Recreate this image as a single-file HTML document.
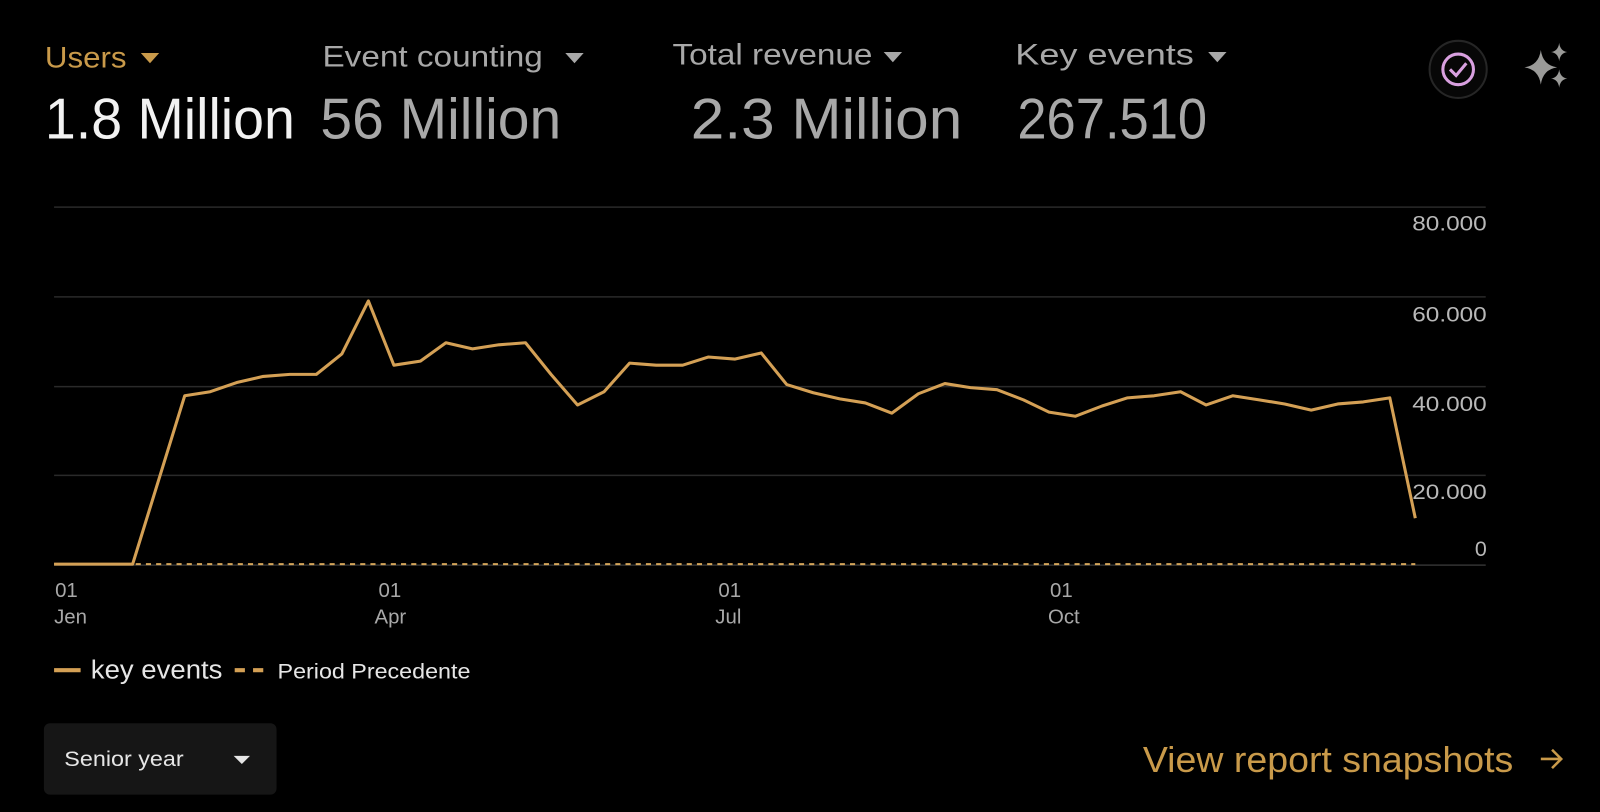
<!DOCTYPE html>
<html><head><meta charset="utf-8"><style>
html,body{margin:0;padding:0;background:#000;width:1600px;height:812px;overflow:hidden}
svg{display:block}
text{font-family:"Liberation Sans",sans-serif}
</style></head><body>
<svg width="1600" height="812" viewBox="0 0 1568 796" preserveAspectRatio="none">
<rect width="1568" height="796" fill="#000"/>
<!-- headers -->
<text x="44" y="66" font-size="29" fill="#c99a4a" textLength="80" lengthAdjust="spacingAndGlyphs">Users</text>
<path d="M138 52 L156 52 L147 62 Z" fill="#c99a4a"/>
<text x="44" y="136" font-size="56" fill="#f2f2f2" textLength="245" lengthAdjust="spacingAndGlyphs">1.8 Million</text>
<text x="316" y="65" font-size="29" fill="#a8a8a8" textLength="216" lengthAdjust="spacingAndGlyphs">Event counting</text>
<path d="M554 52 L572 52 L563 62 Z" fill="#a8a8a8"/>
<text x="314" y="136" font-size="56" fill="#a8a8a8" textLength="236" lengthAdjust="spacingAndGlyphs">56 Million</text>
<text x="659" y="63" font-size="29" fill="#a8a8a8" textLength="196" lengthAdjust="spacingAndGlyphs">Total revenue</text>
<path d="M866 51 L884 51 L875 61 Z" fill="#a8a8a8"/>
<text x="677" y="136" font-size="56" fill="#a8a8a8" textLength="266" lengthAdjust="spacingAndGlyphs">2.3 Million</text>
<text x="995" y="63" font-size="29" fill="#a8a8a8" textLength="175" lengthAdjust="spacingAndGlyphs">Key events</text>
<path d="M1184 51 L1202 51 L1193 61 Z" fill="#a8a8a8"/>
<text x="997" y="136" font-size="56" fill="#a8a8a8" textLength="186" lengthAdjust="spacingAndGlyphs">267.510</text>
<!-- icons -->
<circle cx="1429" cy="68" r="28" fill="#070707" stroke="#262626" stroke-width="2"/>
<circle cx="1429" cy="68" r="15" fill="none" stroke="#d9a0e0" stroke-width="3"/>
<path d="M1421 68 L1427 74 L1437 62" fill="none" stroke="#d9a0e0" stroke-width="3"/>
<path d="M1510 49 Q1512 64 1526 66 Q1512 68 1510 83 Q1508 68 1494 66 Q1508 64 1510 49Z" fill="#9a9a98"/>
<path d="M1528 42 Q1529 50 1536 51 Q1529 52 1528 60 Q1527 52 1520 51 Q1527 50 1528 42Z" fill="#9a9a98"/>
<path d="M1528 68 Q1529 76 1536 77 Q1529 78 1528 86 Q1527 78 1520 77 Q1527 76 1528 68Z" fill="#9a9a98"/>
<!-- grid -->
<g stroke="#2a2a2a" stroke-width="1.5">
<line x1="53" y1="203" x2="1456" y2="203"/>
<line x1="53" y1="291" x2="1456" y2="291"/>
<line x1="53" y1="379" x2="1456" y2="379"/>
<line x1="53" y1="466" x2="1456" y2="466"/>
<line x1="53" y1="554" x2="1456" y2="554" stroke="#333"/>
</g>
<g font-size="21" fill="#b8b8b8" text-anchor="end">
<text x="1457" y="226" textLength="73" lengthAdjust="spacingAndGlyphs">80.000</text>
<text x="1457" y="315" textLength="73" lengthAdjust="spacingAndGlyphs">60.000</text>
<text x="1457" y="403" textLength="73" lengthAdjust="spacingAndGlyphs">40.000</text>
<text x="1457" y="489" textLength="73" lengthAdjust="spacingAndGlyphs">20.000</text>
<text x="1457" y="545">0</text>
</g>
<g font-size="20" fill="#a8a8a8">
<text x="54" y="585">01</text><text x="53" y="611">Jen</text>
<text x="371" y="585">01</text><text x="367" y="611">Apr</text>
<text x="704" y="585">01</text><text x="701" y="611">Jul</text>
<text x="1029" y="585">01</text><text x="1027" y="611">Oct</text>
</g>
<line x1="53" y1="553" x2="1387" y2="553" stroke="#d4a55a" stroke-width="2" stroke-dasharray="5,5"/>
<polyline fill="none" stroke="#d4a055" stroke-width="3" stroke-linejoin="round" points="53,553 130,553 181,388 206,384 232,375 258,369 284,367 310,367 335,347 361,295 386,358 412,354 437,336 463,342 489,338 515,336 540,367 566,397 592,384 617,356 643,358 669,358 694,350 720,352 746,346 771,377 797,385 823,391 848,395 874,405 900,386 926,376 951,380 977,382 1003,392 1028,404 1054,408 1080,398 1105,390 1131,388 1157,384 1182,397 1208,388 1234,392 1259,396 1285,402 1311,396 1336,394 1362,390 1387,508"/>
<!-- legend -->
<line x1="53" y1="657" x2="79" y2="657" stroke="#d4a055" stroke-width="4"/>
<text x="89" y="665" font-size="25" fill="#e6e6e6" textLength="129" lengthAdjust="spacingAndGlyphs">key events</text>
<line x1="230" y1="657" x2="262" y2="657" stroke="#d4a055" stroke-width="4" stroke-dasharray="10,8"/>
<text x="272" y="665" font-size="21" fill="#e6e6e6" textLength="189" lengthAdjust="spacingAndGlyphs">Period Precedente</text>
<!-- dropdown -->
<rect x="43" y="709" width="228" height="70" rx="6" fill="#161616"/>
<text x="63" y="751" font-size="21" fill="#e6e6e6" textLength="117" lengthAdjust="spacingAndGlyphs">Senior year</text>
<path d="M229 741 L245 741 L237 749 Z" fill="#e6e6e6"/>
<!-- link -->
<text x="1120" y="757" font-size="35" fill="#c99a4a" textLength="363" lengthAdjust="spacingAndGlyphs">View report snapshots</text>
<path d="M1510 744 L1530 744 M1521 735 L1530 744 L1521 753" fill="none" stroke="#c99a4a" stroke-width="2.5"/>
</svg>
</body></html>
